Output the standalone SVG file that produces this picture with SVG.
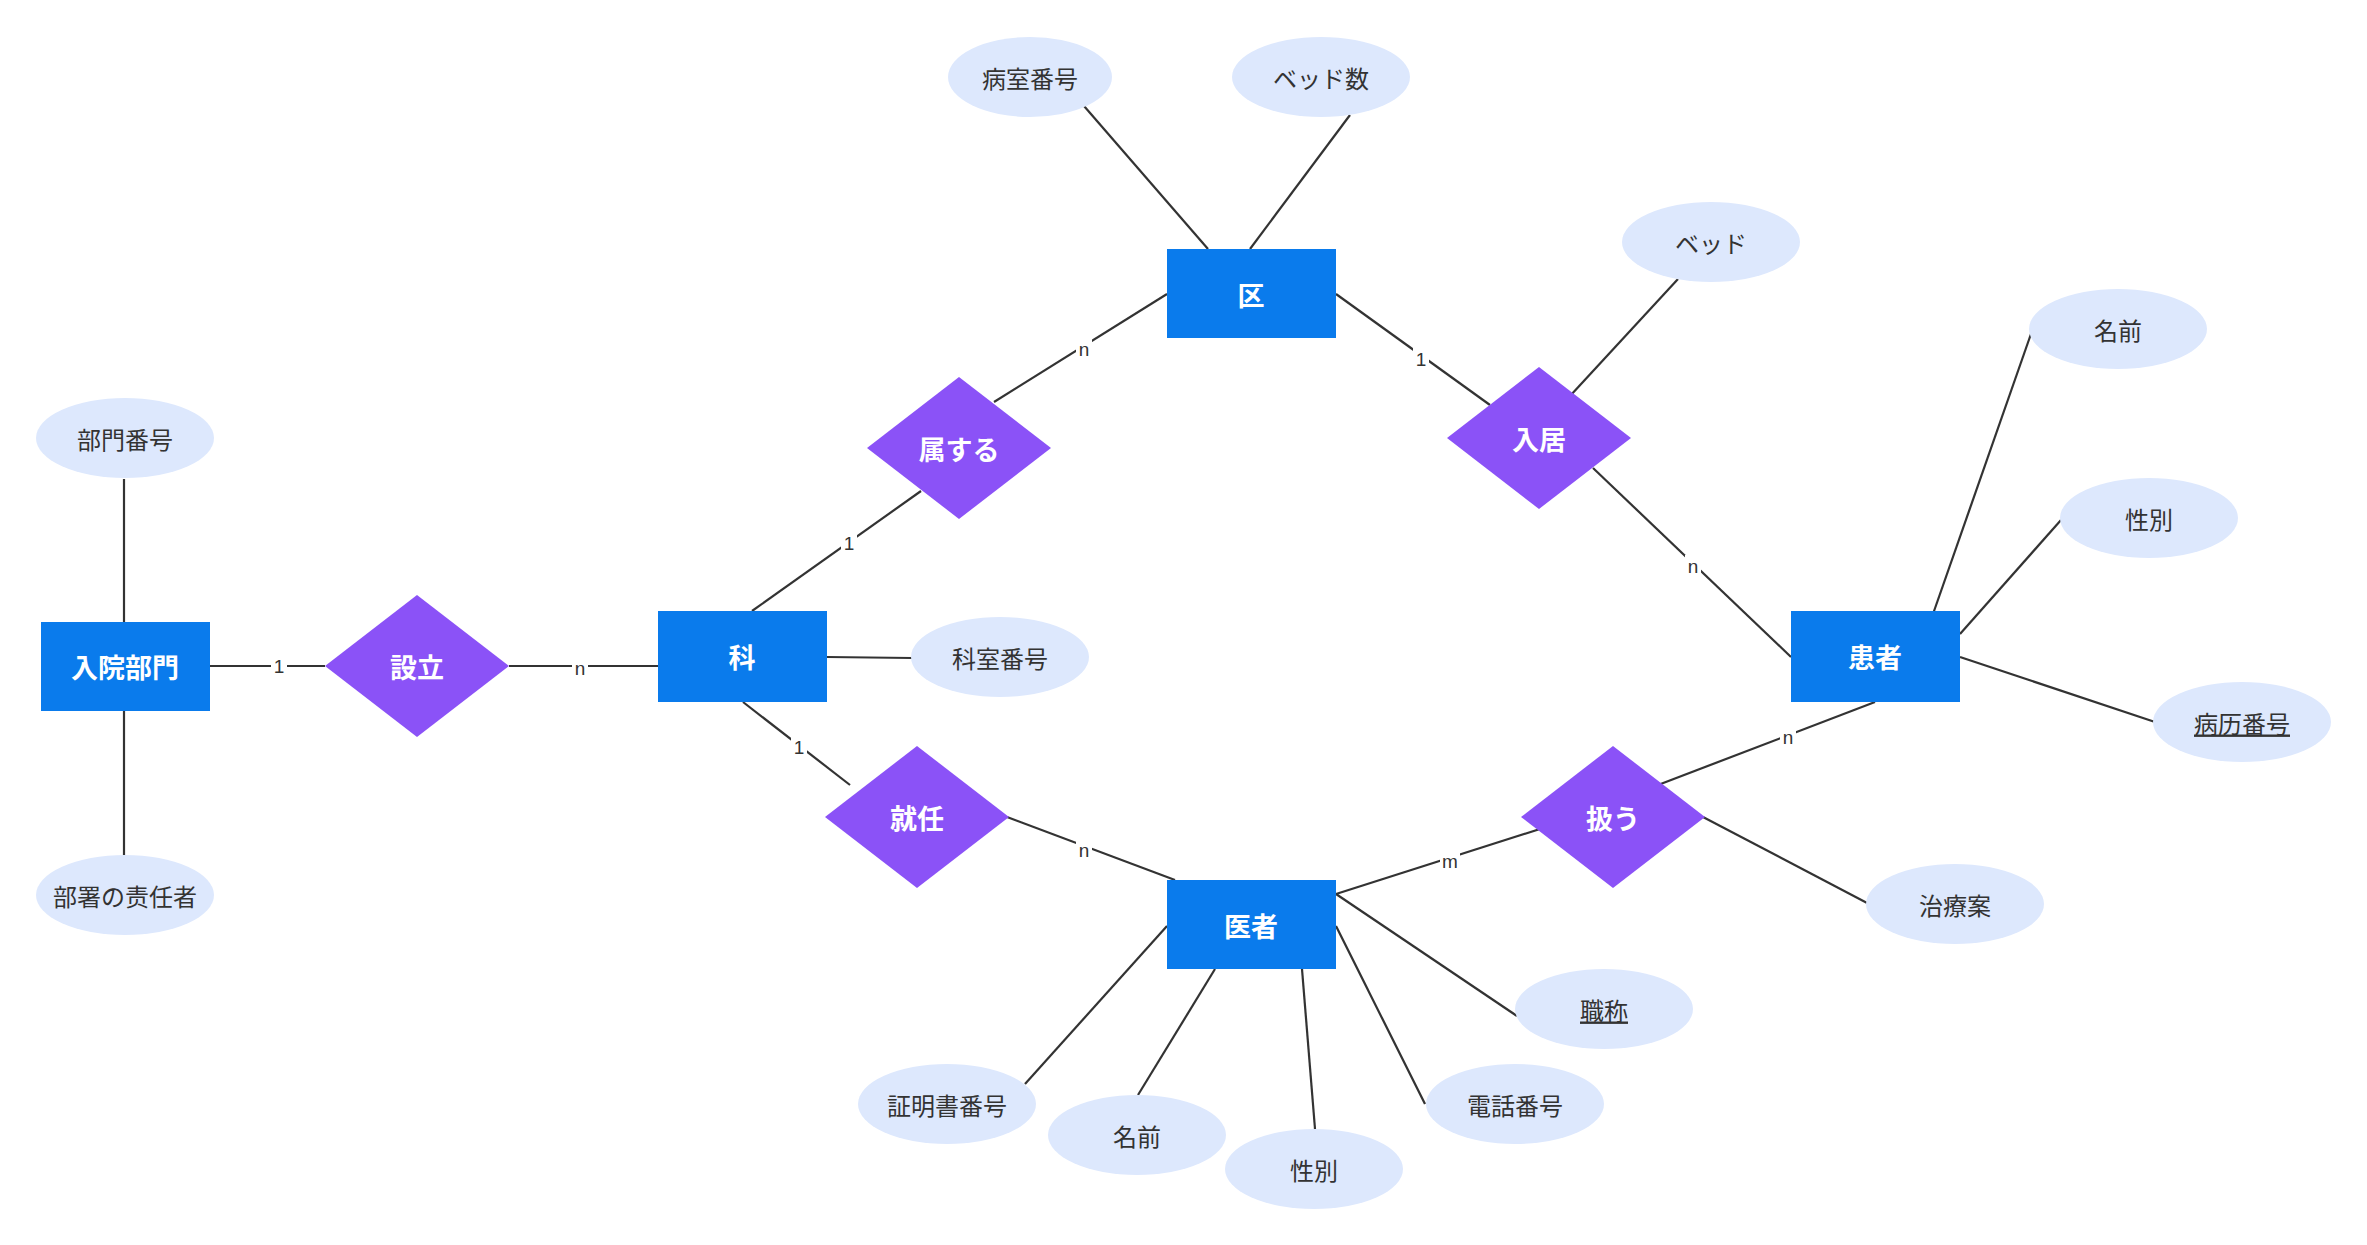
<svg xmlns="http://www.w3.org/2000/svg" width="2367" height="1245" viewBox="0 0 2367 1245">
<style>
.e rect{fill:#0a7bec}
.r polygon{fill:#8b52f7}
.a ellipse{fill:#dde8fd}
.t{font-family:"Noto Sans CJK JP","Noto Sans",sans-serif;text-anchor:middle;dominant-baseline:central}
.et{font-size:27px;font-weight:bold;fill:#fff}
.at{font-size:24px;fill:#333}
.c line{stroke:#333;stroke-width:2.2}
.lb rect{fill:#fff}
.lb text{font-family:"Liberation Sans",sans-serif;font-size:19px;fill:#333;text-anchor:middle;dominant-baseline:central}
</style>
<rect width="2367" height="1245" fill="#fff"/>
<g id="connectors" class="c">
<line x1="124" y1="479" x2="124" y2="622"/>
<line x1="124" y1="711" x2="124" y2="855"/>
<line x1="210" y1="666" x2="325" y2="666"/>
<line x1="509" y1="666" x2="658" y2="666"/>
<line x1="827" y1="657" x2="912" y2="658"/>
<line x1="752" y1="611" x2="921" y2="491"/>
<line x1="994" y1="402" x2="1167" y2="294"/>
<line x1="1208" y1="249" x2="1084" y2="106"/>
<line x1="1250" y1="249" x2="1350" y2="115"/>
<line x1="1336" y1="294" x2="1490" y2="405"/>
<line x1="1570" y1="396" x2="1678" y2="279"/>
<line x1="1593" y1="468" x2="1791" y2="657"/>
<line x1="1933" y1="614" x2="2032" y2="331"/>
<line x1="1960" y1="634" x2="2061" y2="520"/>
<line x1="1960" y1="657" x2="2155" y2="722"/>
<line x1="1875" y1="702" x2="1658" y2="785"/>
<line x1="1703" y1="817" x2="1869" y2="904"/>
<line x1="1540" y1="829" x2="1336" y2="894"/>
<line x1="743" y1="702" x2="850" y2="785"/>
<line x1="1007" y1="817" x2="1175" y2="880"/>
<line x1="1336" y1="894" x2="1517" y2="1016"/>
<line x1="1336" y1="926" x2="1425" y2="1104"/>
<line x1="1302" y1="969" x2="1315" y2="1129"/>
<line x1="1215" y1="969" x2="1138" y2="1095"/>
<line x1="1167" y1="926" x2="1025" y2="1084"/>
<g class="lb">
<rect x="271" y="655" width="16" height="22"/><text x="279" y="666">1</text>
<rect x="572" y="657" width="16" height="22"/><text x="580" y="668">n</text>
<rect x="841" y="532" width="16" height="22"/><text x="849" y="543">1</text>
<rect x="1076" y="338" width="16" height="22"/><text x="1084" y="349">n</text>
<rect x="1413" y="348" width="16" height="22"/><text x="1421" y="359">1</text>
<rect x="1685" y="555" width="16" height="22"/><text x="1693" y="566">n</text>
<rect x="1780" y="726" width="16" height="22"/><text x="1788" y="737">n</text>
<rect x="1440" y="850" width="20" height="22"/><text x="1450" y="861">m</text>
<rect x="791" y="736" width="16" height="22"/><text x="799" y="747">1</text>
<rect x="1076" y="839" width="16" height="22"/><text x="1084" y="850">n</text>
</g>
</g>
<g id="n_nyuin" class="e"><rect x="41" y="622" width="169" height="89"/><text class="t et" x="125" y="666">入院部門</text></g>
<g id="n_ka" class="e"><rect x="658" y="611" width="169" height="91"/><text class="t et" x="742" y="656">科</text></g>
<g id="n_ku" class="e"><rect x="1167" y="249" width="169" height="89"/><text class="t et" x="1251" y="294">区</text></g>
<g id="n_isha" class="e"><rect x="1167" y="880" width="169" height="89"/><text class="t et" x="1251" y="925">医者</text></g>
<g id="n_kanja" class="e"><rect x="1791" y="611" width="169" height="91"/><text class="t et" x="1875" y="656">患者</text></g>
<g id="r_setsuritsu" class="r"><polygon points="417,595 509,666 417,737 325,666"/><text class="t et" x="417" y="666">設立</text></g>
<g id="r_zokusuru" class="r"><polygon points="959,377 1051,448 959,519 867,448"/><text class="t et" x="959" y="448">属する</text></g>
<g id="r_nyukyo" class="r"><polygon points="1539,367 1631,438 1539,509 1447,438"/><text class="t et" x="1539" y="438">入居</text></g>
<g id="r_shunin" class="r"><polygon points="917,746 1009,817 917,888 825,817"/><text class="t et" x="917" y="817">就任</text></g>
<g id="r_atsukau" class="r"><polygon points="1613,746 1705,817 1613,888 1521,817"/><text class="t et" x="1613" y="817">扱う</text></g>
<g id="a1" class="a"><ellipse cx="125" cy="438" rx="89" ry="40"/><text class="t at" x="125" y="438">部門番号</text></g>
<g id="a2" class="a"><ellipse cx="125" cy="895" rx="89" ry="40"/><text class="t at" x="125" y="895">部署の责任者</text></g>
<g id="a3" class="a"><ellipse cx="1000" cy="657" rx="89" ry="40"/><text class="t at" x="1000" y="657">科室番号</text></g>
<g id="a4" class="a"><ellipse cx="1030" cy="77" rx="82" ry="40"/><text class="t at" x="1030" y="77">病室番号</text></g>
<g id="a5" class="a"><ellipse cx="1321" cy="77" rx="89" ry="40"/><text class="t at" x="1321" y="77">ベッド数</text></g>
<g id="a6" class="a"><ellipse cx="1711" cy="242" rx="89" ry="40"/><text class="t at" x="1711" y="242">ベッド</text></g>
<g id="a7" class="a"><ellipse cx="2118" cy="329" rx="89" ry="40"/><text class="t at" x="2118" y="329">名前</text></g>
<g id="a8" class="a"><ellipse cx="2149" cy="518" rx="89" ry="40"/><text class="t at" x="2149" y="518">性別</text></g>
<g id="a9" class="a"><ellipse cx="2242" cy="722" rx="89" ry="40"/><text class="t at" x="2242" y="722" text-decoration="underline">病历番号</text></g>
<g id="a10" class="a"><ellipse cx="1955" cy="904" rx="89" ry="40"/><text class="t at" x="1955" y="904">治療案</text></g>
<g id="a11" class="a"><ellipse cx="1604" cy="1009" rx="89" ry="40"/><text class="t at" x="1604" y="1009" text-decoration="underline">職称</text></g>
<g id="a12" class="a"><ellipse cx="1515" cy="1104" rx="89" ry="40"/><text class="t at" x="1515" y="1104">電話番号</text></g>
<g id="a13" class="a"><ellipse cx="1314" cy="1169" rx="89" ry="40"/><text class="t at" x="1314" y="1169">性別</text></g>
<g id="a14" class="a"><ellipse cx="1137" cy="1135" rx="89" ry="40"/><text class="t at" x="1137" y="1135">名前</text></g>
<g id="a15" class="a"><ellipse cx="947" cy="1104" rx="89" ry="40"/><text class="t at" x="947" y="1104">証明書番号</text></g>
</svg>
